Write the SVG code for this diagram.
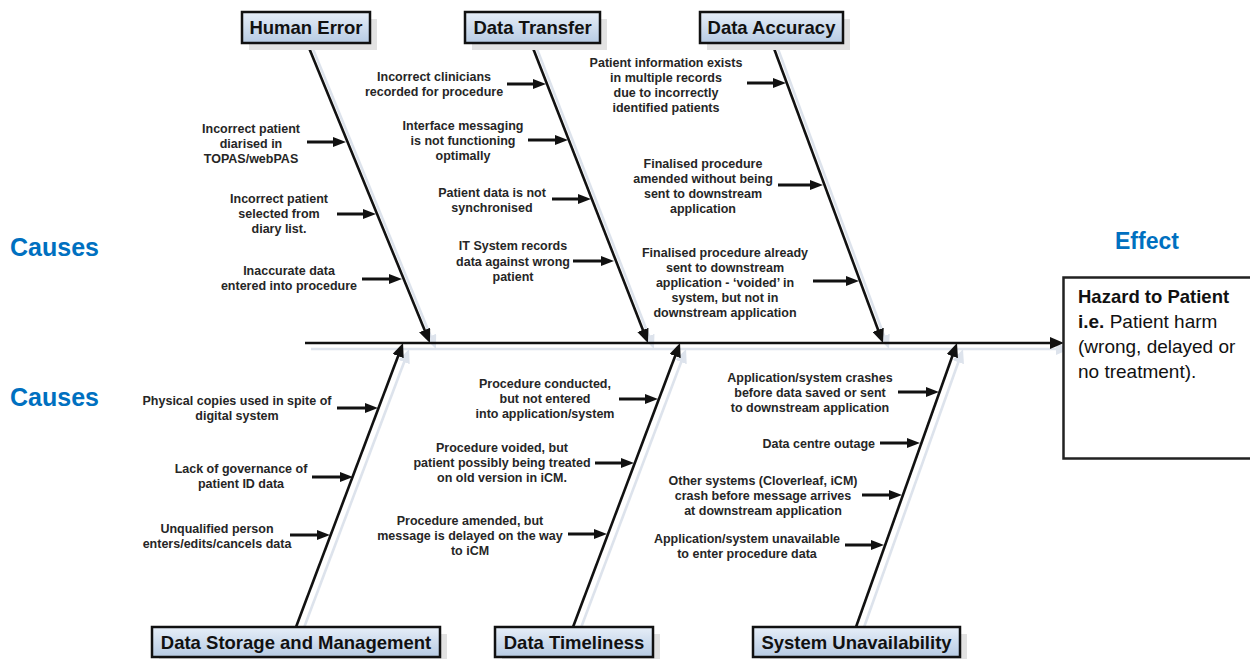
<svg xmlns="http://www.w3.org/2000/svg" width="1250" height="659" viewBox="0 0 1250 659">
<defs>
<linearGradient id="boxfill" x1="0" y1="0" x2="0" y2="1">
<stop offset="0" stop-color="#e6eef8"/>
<stop offset="1" stop-color="#b7cbe3"/>
</linearGradient>
<marker id="ahs" markerUnits="userSpaceOnUse" markerWidth="13" markerHeight="10" refX="2" refY="5" orient="auto"><path d="M0,0 L13,5 L0,10 z" fill="#111"/></marker>
<marker id="ahb" markerUnits="userSpaceOnUse" markerWidth="14" markerHeight="12" refX="2" refY="6" orient="auto"><path d="M0,0 L14,6 L0,12 z" fill="#111"/></marker>
<marker id="ahsh" markerUnits="userSpaceOnUse" markerWidth="14" markerHeight="12" refX="2" refY="6" orient="auto"><path d="M0,0 L14,6 L0,12 z" fill="#dde3ec"/></marker>
</defs>
<style>
.lbl{font-family:"Liberation Sans",Arial,sans-serif;font-weight:bold;font-size:12.5px;fill:#262626;text-anchor:middle}
.cat{font-family:"Liberation Sans",Arial,sans-serif;font-weight:bold;font-size:18.5px;fill:#111;text-anchor:middle}
.box{fill:url(#boxfill);stroke:#111;stroke-width:2.5}
.boxsh{fill:#e2e2e2}
.bone{stroke:#111;stroke-width:2.6;fill:none;marker-end:url(#ahb)}
.bonesh{stroke:#dde3ec;stroke-width:2.6;fill:none;marker-end:url(#ahsh)}
.arr{stroke:#111;stroke-width:3;fill:none;marker-end:url(#ahs)}
.big{font-family:"Liberation Sans",Arial,sans-serif;font-weight:bold;fill:#0070c0}
.eff{font-family:"Liberation Sans",Arial,sans-serif;font-size:19px;fill:#111}
</style>
<rect width="1250" height="659" fill="#fff"/>

<g id="shadows">
<line class="bonesh" x1="311" y1="349" x2="1058" y2="349"/>
<line class="bonesh" x1="313" y1="49" x2="431.4" y2="337.9"/>
<line class="bonesh" x1="537" y1="49" x2="649.6" y2="337.8"/>
<line class="bonesh" x1="778" y1="49" x2="884.8" y2="337.7"/>
<line class="bonesh" x1="302" y1="633" x2="404.8" y2="360.2"/>
<line class="bonesh" x1="579" y1="633" x2="681.8" y2="360.2"/>
<line class="bonesh" x1="862" y1="633" x2="959" y2="360.3"/>
</g>

<g id="connectors">
<line class="bone" x1="305" y1="343" x2="1052" y2="343"/>
<line class="bone" x1="307" y1="43" x2="425.4" y2="331.9"/>
<line class="bone" x1="531" y1="43" x2="643.6" y2="331.8"/>
<line class="bone" x1="772" y1="43" x2="878.8" y2="331.7"/>
<line class="bone" x1="296" y1="627" x2="398.8" y2="354.2"/>
<line class="bone" x1="573" y1="627" x2="675.8" y2="354.2"/>
<line class="bone" x1="856" y1="627" x2="953" y2="354.3"/>
<line class="arr" x1="307" y1="142" x2="335" y2="142"/>
<line class="arr" x1="337" y1="214" x2="365" y2="214"/>
<line class="arr" x1="362" y1="279" x2="391" y2="279"/>
<line class="arr" x1="507" y1="84" x2="535" y2="84"/>
<line class="arr" x1="528" y1="140" x2="557" y2="140"/>
<line class="arr" x1="552" y1="199" x2="580" y2="199"/>
<line class="arr" x1="573" y1="261" x2="603" y2="261"/>
<line class="arr" x1="747" y1="83" x2="775" y2="83"/>
<line class="arr" x1="778" y1="185" x2="812" y2="185"/>
<line class="arr" x1="813" y1="281" x2="848" y2="281"/>
<line class="arr" x1="337" y1="408" x2="367" y2="408"/>
<line class="arr" x1="312" y1="477" x2="342" y2="477"/>
<line class="arr" x1="290" y1="535" x2="319" y2="535"/>
<line class="arr" x1="619" y1="399" x2="647" y2="399"/>
<line class="arr" x1="595" y1="463" x2="623" y2="463"/>
<line class="arr" x1="568" y1="534" x2="596" y2="534"/>
<line class="arr" x1="898" y1="392" x2="928" y2="392"/>
<line class="arr" x1="880" y1="443" x2="909" y2="443"/>
<line class="arr" x1="862" y1="495" x2="891" y2="495"/>
<line class="arr" x1="845" y1="545" x2="873" y2="545"/>
</g>

<g id="cat-human-error">
<rect class="boxsh" x="249" y="19" width="128" height="31"/>
<rect class="box" x="242" y="12" width="128" height="31"/>
<text class="cat" x="306" y="34">Human Error</text>
</g>
<g id="cat-data-transfer">
<rect class="boxsh" x="472" y="19" width="135" height="31"/>
<rect class="box" x="465" y="12" width="135" height="31"/>
<text class="cat" x="532.5" y="34">Data Transfer</text>
</g>
<g id="cat-data-accuracy">
<rect class="boxsh" x="707" y="19" width="143" height="31"/>
<rect class="box" x="700" y="12" width="143" height="31"/>
<text class="cat" x="771.5" y="34">Data Accuracy</text>
</g>
<g id="cat-data-storage">
<rect class="boxsh" x="159" y="634" width="288" height="30"/>
<rect class="box" x="152" y="627" width="288" height="30"/>
<text class="cat" x="296" y="649">Data Storage and Management</text>
</g>
<g id="cat-data-timeliness">
<rect class="boxsh" x="502" y="634" width="158" height="30"/>
<rect class="box" x="495" y="627" width="158" height="30"/>
<text class="cat" x="574" y="649">Data Timeliness</text>
</g>
<g id="cat-system-unavailability">
<rect class="boxsh" x="760" y="634" width="207" height="30"/>
<rect class="box" x="753" y="627" width="207" height="30"/>
<text class="cat" x="856.5" y="649">System Unavailability</text>
</g>

<g id="he1"><text class="lbl"><tspan x="251" y="132.5">Incorrect patient</tspan><tspan x="251" y="147.5">diarised in</tspan><tspan x="251" y="162.5">TOPAS/webPAS</tspan></text></g>
<g id="he2"><text class="lbl"><tspan x="279" y="202.5">Incorrect patient</tspan><tspan x="279" y="217.5">selected from</tspan><tspan x="279" y="232.5">diary list.</tspan></text></g>
<g id="he3"><text class="lbl"><tspan x="289" y="274.5">Inaccurate data</tspan><tspan x="289" y="289.5">entered into procedure</tspan></text></g>

<g id="dt1"><text class="lbl"><tspan x="434" y="80.5">Incorrect clinicians</tspan><tspan x="434" y="96">recorded for procedure</tspan></text></g>
<g id="dt2"><text class="lbl"><tspan x="463" y="129.5">Interface messaging</tspan><tspan x="463" y="144.5">is not functioning</tspan><tspan x="463" y="159.5">optimally</tspan></text></g>
<g id="dt3"><text class="lbl"><tspan x="492" y="196.5">Patient data is not</tspan><tspan x="492" y="211.5">synchronised</tspan></text></g>
<g id="dt4"><text class="lbl"><tspan x="513" y="250">IT System records</tspan><tspan x="513" y="265.5">data against wrong</tspan><tspan x="513" y="281">patient</tspan></text></g>

<g id="da1"><text class="lbl"><tspan x="666" y="66.5">Patient information exists</tspan><tspan x="666" y="81.5">in multiple records</tspan><tspan x="666" y="96.5">due to incorrectly</tspan><tspan x="666" y="111.5">identified patients</tspan></text></g>
<g id="da2"><text class="lbl"><tspan x="703" y="167.5">Finalised procedure</tspan><tspan x="703" y="182.5">amended without being</tspan><tspan x="703" y="197.5">sent to downstream</tspan><tspan x="703" y="212.5">application</tspan></text></g>
<g id="da3"><text class="lbl"><tspan x="725" y="256.5">Finalised procedure already</tspan><tspan x="725" y="271.5">sent to downstream</tspan><tspan x="725" y="286.5">application - ‘voided’ in</tspan><tspan x="725" y="301.5">system, but not in</tspan><tspan x="725" y="316.5">downstream application</tspan></text></g>

<g id="ds1"><text class="lbl"><tspan x="237" y="404.5">Physical copies used in spite of</tspan><tspan x="237" y="419.5">digital system</tspan></text></g>
<g id="ds2"><text class="lbl"><tspan x="241" y="472.5">Lack of governance of</tspan><tspan x="241" y="487.5">patient ID data</tspan></text></g>
<g id="ds3"><text class="lbl"><tspan x="217" y="532.5">Unqualified person</tspan><tspan x="217" y="547.5">enters/edits/cancels data</tspan></text></g>

<g id="tl1"><text class="lbl"><tspan x="545" y="387.5">Procedure conducted,</tspan><tspan x="545" y="402.5">but not entered</tspan><tspan x="545" y="417.5">into application/system</tspan></text></g>
<g id="tl2"><text class="lbl"><tspan x="502" y="451.5">Procedure voided, but</tspan><tspan x="502" y="466.5">patient possibly being treated</tspan><tspan x="502" y="481.5">on old version in iCM.</tspan></text></g>
<g id="tl3"><text class="lbl"><tspan x="470" y="524.5">Procedure amended, but</tspan><tspan x="470" y="539.5">message is delayed on the way</tspan><tspan x="470" y="554.5">to iCM</tspan></text></g>

<g id="su1"><text class="lbl"><tspan x="810" y="381.5">Application/system crashes</tspan><tspan x="810" y="396.5">before data saved or sent</tspan><tspan x="810" y="411.5">to downstream application</tspan></text></g>
<g id="su2"><text class="lbl" style="text-anchor:end" x="875" y="447.5">Data centre outage</text></g>
<g id="su3"><text class="lbl"><tspan x="763" y="484.5">Other systems (Cloverleaf, iCM)</tspan><tspan x="763" y="499.5">crash before message arrives</tspan><tspan x="763" y="514.5">at downstream application</tspan></text></g>
<g id="su4"><text class="lbl"><tspan x="747" y="542.5">Application/system unavailable</tspan><tspan x="747" y="557.5">to enter procedure data</tspan></text></g>

<g id="causes-top"><text class="big" x="10" y="256" font-size="25">Causes</text></g>
<g id="causes-bottom"><text class="big" x="10" y="406" font-size="25">Causes</text></g>
<g id="effect-label"><text class="big" x="1115" y="249" font-size="23">Effect</text></g>

<g id="effect">
<rect x="1063.5" y="277.5" width="200" height="181" fill="#fff" stroke="#222" stroke-width="2.5"/>
<text class="eff"><tspan x="1078" y="303" font-weight="bold" font-size="18.5">Hazard to Patient</tspan><tspan x="1078" y="328"><tspan font-weight="bold">i.e.</tspan>  Patient harm</tspan><tspan x="1078" y="353">(wrong, delayed or</tspan><tspan x="1078" y="378">no treatment).</tspan></text>
</g>
</svg>
